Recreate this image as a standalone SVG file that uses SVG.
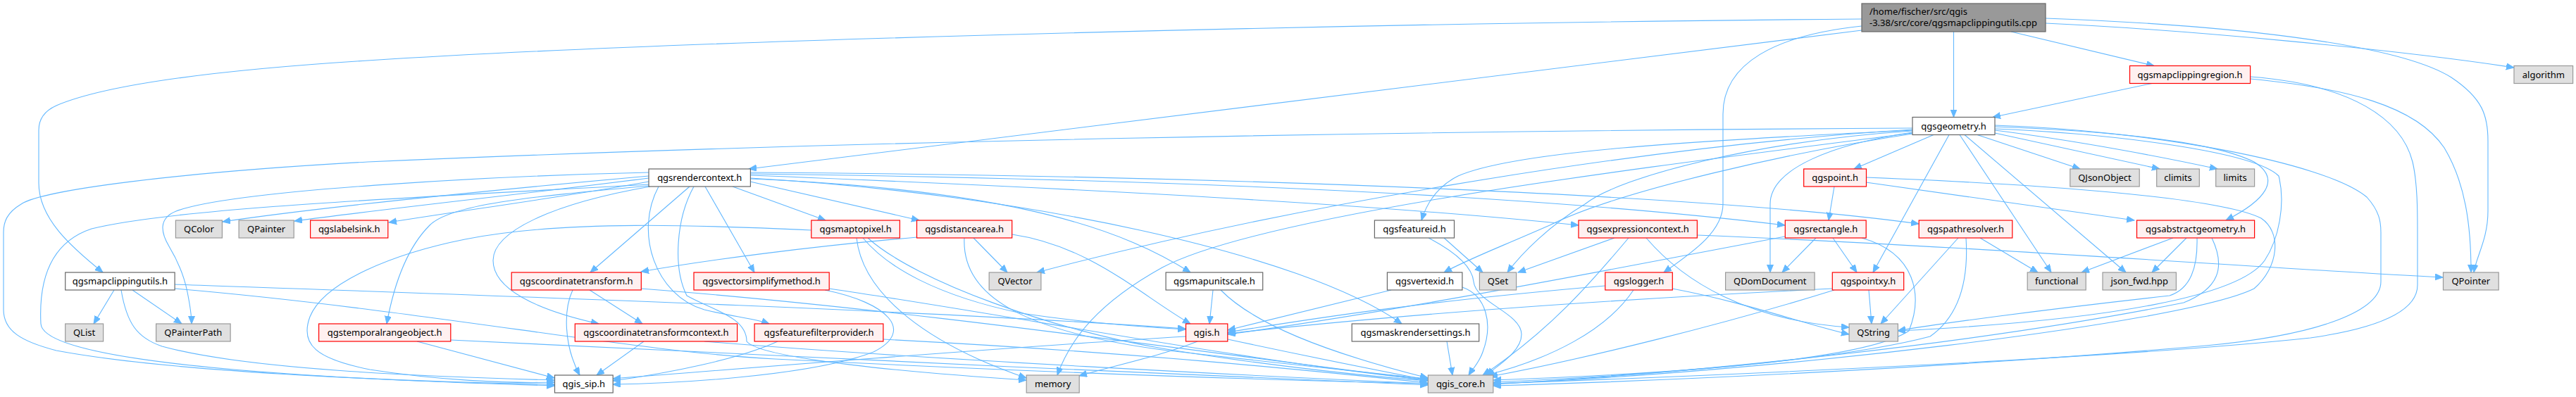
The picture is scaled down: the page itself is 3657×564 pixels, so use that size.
<svg xmlns="http://www.w3.org/2000/svg" width="3657" height="564" viewBox="0 0 3657 564">
<style>
.e{fill:none;stroke:#63b8ff;stroke-width:1.1;marker-end:url(#a)}
.nw rect{fill:#ffffff;stroke:#666666;stroke-width:1.2}
.nr rect{fill:#fff0f0;stroke:#ff0000;stroke-width:1.2}
.ng rect{fill:#e0e0e0;stroke:#999999;stroke-width:1.2}
.nt rect{fill:#999999;stroke:#666666;stroke-width:1.2}
text{font-family:"Noto Sans","DejaVu Sans",sans-serif;font-size:13px;fill:#000000;text-anchor:middle}
.nt text{text-anchor:start}
</style>
<defs>
<marker id="a" markerWidth="12" markerHeight="10" refX="11" refY="4.5" orient="auto" markerUnits="userSpaceOnUse"><path d="M0,0 L11,4.5 L0,9 z" fill="#63b8ff" stroke="#63b8ff" stroke-width="1"/></marker>
</defs>
<rect width="3657" height="564" fill="#ffffff"/>
<g id="edges">
<path class="e" d="M2643,27 C2000,32 1000,55 522,86 C300,100 150,120 80,150 C62,158 55,170 55,185 L55,260 C55,310 100,350 146,387"/>
<path class="e" d="M2643,43 L1063,240"/>
<path class="e" d="M2855,45 L3058,93.5"/>
<path class="e" d="M2773.5,45 L2773.5,166.5"/>
<path class="e" d="M2643,37 C2520,50 2446,90 2446,162 L2446,290 C2446,330 2400,360 2362,387"/>
<path class="e" d="M2904,33 C3100,42 3400,70 3569,96"/>
<path class="e" d="M2904,26 C3150,35 3400,60 3480,110 C3525,140 3532,165 3532,200 L3532,300 C3532,340 3515,365 3512,387"/>
<path class="e" d="M3055,118.5 L2829,166.5"/>
<path class="e" d="M3194.6,112 C3330,125 3430,150 3470,210 C3500,260 3508,320 3508,387"/>
<path class="e" d="M3194.6,109 C3340,120 3410,170 3425,230 C3432,260 3432,300 3432,330 L3432,405 C3432,450 3350,470 3280,480 C3000,510 2400,535 2120,545"/>
<path class="e" d="M2745,191.5 L2632,240"/>
<path class="e" d="M2767,191.5 L2659,387"/>
<path class="e" d="M2782,191.5 L2912,387"/>
<path class="e" d="M2789,191.5 L3018,387"/>
<path class="e" d="M2807,191.5 L2953,240"/>
<path class="e" d="M2832,189 L3066,240"/>
<path class="e" d="M2832,185 C2950,200 3080,225 3148,240"/>
<path class="e" d="M2832,180 C2990,186 3140,200 3200,230 C3240,255 3215,285 3160,313"/>
<path class="e" d="M2832,183 C3000,190 3200,215 3235,250 C3245,290 3235,340 3215,370 C3180,420 3000,455 2694,470"/>
<path class="e" d="M2832,178 C3050,185 3300,230 3360,280 C3378,300 3380,315 3380,330 L3380,400 C3380,440 3300,475 3132,491 C2800,520 2400,540 2120,548"/>
<path class="e" d="M2715,188 C2600,205 2513,240 2513,290 L2513,387"/>
<path class="e" d="M2715,186 C2500,200 2300,250 2250,290 C2200,320 2160,360 2140,387"/>
<path class="e" d="M2715,185 C2400,200 2150,215 2070,250 C2040,265 2025,290 2018,313"/>
<path class="e" d="M2715,190 C2550,215 2300,270 2200,320 C2120,355 2080,370 2050,387"/>
<path class="e" d="M2715,184 C2300,210 1800,300 1472,387"/>
<path class="e" d="M2715,189 C2400,230 1800,300 1650,380 C1560,430 1520,480 1501,533"/>
<path class="e" d="M2715,182 C2000,186 1200,200 522,230 C250,245 60,270 30,290 C10,302 5,315 5,330 L5,440 C5,470 30,485 80,498 C250,530 600,543 787,546"/>
<path class="e" d="M921,250 C700,270 450,295 316,315"/>
<path class="e" d="M921,253 C750,275 560,295 418,314"/>
<path class="e" d="M921,258 C800,280 650,300 552,316"/>
<path class="e" d="M921,245 C700,250 330,270 250,300 C225,310 228,330 240,350 C255,375 262,395 266,415 C270,435 272,448 272,460"/>
<path class="e" d="M921,262 C600,280 250,295 130,325 C70,345 55,400 58,460 C62,520 500,540 787,548"/>
<path class="e" d="M921,264 C750,280 640,290 610,320 C580,350 560,400 549,460"/>
<path class="e" d="M979,265 L838,387"/>
<path class="e" d="M923,265 C780,290 700,330 700,370 C700,410 760,440 850,460"/>
<path class="e" d="M985,265 C960,310 955,380 975,420 C1010,440 1060,450 1060,485 C1080,510 1300,530 1457,540"/>
<path class="e" d="M935,265 C900,330 930,420 1000,440 C1040,450 1070,452 1092,460"/>
<path class="e" d="M1001,265 L1071,387"/>
<path class="e" d="M1040,265 L1172,313"/>
<path class="e" d="M1065,258 L1305,313"/>
<path class="e" d="M1065,254 C1450,270 1600,330 1690,387"/>
<path class="e" d="M1065,253 C1450,275 1850,360 1990,460"/>
<path class="e" d="M1065,249 C1600,270 2000,295 2241,320"/>
<path class="e" d="M1065,247 C1700,255 2200,280 2534,320"/>
<path class="e" d="M1065,245 C1800,250 2450,280 2724,318"/>
<path class="e" d="M162,412 L133,460"/>
<path class="e" d="M188,412 L258,460"/>
<path class="e" d="M172,412 C180,460 195,480 230,492 C350,525 600,535 787,540"/>
<path class="e" d="M248,404 C700,420 1300,440 1683,467"/>
<path class="e" d="M248,410 C600,440 900,500 1100,510 C1500,530 1800,540 2027,545"/>
<path class="e" d="M592,485 L787,537"/>
<path class="e" d="M640,483 C1000,500 1600,530 2027,547"/>
<path class="e" d="M837,412 L912,460"/>
<path class="e" d="M813,412 C800,440 800,490 823,533"/>
<path class="e" d="M910,410 C1300,440 1700,500 2027,540"/>
<path class="e" d="M914,485 L847,533"/>
<path class="e" d="M1000,485 C1300,510 1800,535 2027,545"/>
<path class="e" d="M1171,412 C1260,430 1300,470 1240,500 C1150,535 950,545 870,546"/>
<path class="e" d="M1177,410 C1450,450 1750,510 2027,540"/>
<path class="e" d="M1216,338 C1225,420 1320,490 1457,537"/>
<path class="e" d="M1225,338 C1260,380 1330,420 1450,445 C1550,460 1630,465 1683,468"/>
<path class="e" d="M1232,338 C1300,400 1500,470 1650,495 C1800,520 1950,535 2027,541"/>
<path class="e" d="M1152,327 C1000,320 800,312 660,340 C560,360 460,400 440,450 C425,490 450,510 525,525 C620,540 720,545 787,543"/>
<path class="e" d="M1382,338 L1430,387"/>
<path class="e" d="M1302,337 C1150,350 1000,370 910,386"/>
<path class="e" d="M1369,338 C1365,420 1450,470 1650,497 C1850,520 1950,530 2027,538"/>
<path class="e" d="M1437,333 C1550,350 1620,420 1690,460"/>
<path class="e" d="M1104,485 C1050,510 950,530 870,541"/>
<path class="e" d="M1254,482 C1600,500 1850,525 2027,544"/>
<path class="e" d="M1683,478 C1400,495 1100,520 870,538"/>
<path class="e" d="M1743,482 C1850,505 1950,525 2027,540"/>
<path class="e" d="M1700,485 C1650,505 1580,520 1532,534"/>
<path class="e" d="M1722,412 L1717,460"/>
<path class="e" d="M1733,412 C1780,460 1880,500 2027,537"/>
<path class="e" d="M1975,412 L1743,469"/>
<path class="e" d="M2076,408 C2110,420 2120,460 2105,500 C2100,515 2090,525 2085,533"/>
<path class="e" d="M2319,412 C2280,470 2200,510 2110,533"/>
<path class="e" d="M2279,406 C2000,430 1850,455 1743,472"/>
<path class="e" d="M2374,410 C2480,430 2560,460 2625,475"/>
<path class="e" d="M2292,338 L2155,387"/>
<path class="e" d="M2312,338 C2260,400 2200,470 2105,533"/>
<path class="e" d="M2337,338 C2390,400 2480,455 2625,465"/>
<path class="e" d="M2409,334 C2800,350 3200,380 3468,394"/>
<path class="e" d="M2578,338 L2530,387"/>
<path class="e" d="M2602,338 L2636,387"/>
<path class="e" d="M2643,338 C2720,360 2730,420 2710,470 C2650,510 2400,530 2120,540"/>
<path class="e" d="M2534,336 C2300,380 2000,440 1743,475"/>
<path class="e" d="M2811,338 L2893,387"/>
<path class="e" d="M2780,338 L2670,460"/>
<path class="e" d="M2791,338 C2795,400 2780,450 2740,478 C2600,515 2300,535 2120,543"/>
<path class="e" d="M3085,338 L2955,387"/>
<path class="e" d="M3104,338 L3055,387"/>
<path class="e" d="M3119,338 C3120,380 3110,410 3080,420 C2900,440 2750,460 2694,470"/>
<path class="e" d="M3140,338 C3160,380 3150,410 3100,430 C2800,490 2400,530 2120,546"/>
<path class="e" d="M2604,265 L2596,313"/>
<path class="e" d="M2649,259 L3030,313"/>
<path class="e" d="M2649,252 C2900,262 3150,280 3210,310 C3240,330 3235,380 3200,410 C3100,460 2500,530 2120,545"/>
<path class="e" d="M2653,412 L2657,460"/>
<path class="e" d="M2604,412 C2450,460 2250,510 2115,535"/>
<path class="e" d="M2601,410 C2300,425 2000,445 1743,474"/>
<path class="e" d="M2050,338 L2105,387"/>
<path class="e" d="M2028,338 C2070,360 2090,380 2092,400 C2095,430 2160,445 2160,475 C2160,500 2125,520 2110,533"/>
<path class="e" d="M2054,485 L2062,533"/>
</g>
<g id="n0" class="nt"><rect x="2643" y="5" width="261" height="40"/><text x="2654" y="21">/home/fischer/src/qgis</text><text x="2654" y="37">-3.38/src/core/qgsmapclippingutils.cpp</text></g>
<g id="n1" class="nw"><rect x="92.7" y="387" width="155.4" height="25"/><text x="170.4" y="404">qgsmapclippingutils.h</text></g>
<g id="n2" class="nw"><rect x="921" y="240" width="144.4" height="25"/><text x="993.2" y="257">qgsrendercontext.h</text></g>
<g id="n3" class="nr"><rect x="3023.5" y="93.5" width="171.1" height="25"/><text x="3109" y="110.5">qgsmapclippingregion.h</text></g>
<g id="n4" class="nw"><rect x="2715" y="166.5" width="117" height="25"/><text x="2773.5" y="183.5">qgsgeometry.h</text></g>
<g id="n5" class="nr"><rect x="2278.8" y="387" width="95.5" height="25"/><text x="2326.5" y="404">qgslogger.h</text></g>
<g id="n6" class="ng"><rect x="3569" y="93.5" width="83.6" height="25"/><text x="3610.8" y="110.5">algorithm</text></g>
<g id="n7" class="ng"><rect x="3468.5" y="387" width="78.7" height="25"/><text x="3507.8" y="404">QPointer</text></g>
<g id="n8" class="ng"><rect x="92.7" y="460" width="53.9" height="25"/><text x="119.6" y="477">QList</text></g>
<g id="n9" class="ng"><rect x="221.6" y="460" width="105.5" height="25"/><text x="274.3" y="477">QPainterPath</text></g>
<g id="n10" class="nw"><rect x="787.5" y="533" width="82.7" height="25"/><text x="828.8" y="550">qgis_sip.h</text></g>
<g id="n11" class="ng"><rect x="2027.4" y="533" width="92.4" height="25"/><text x="2073.6" y="550">qgis_core.h</text></g>
<g id="n12" class="nr"><rect x="1683.5" y="460" width="59.3" height="25"/><text x="1713.1" y="477">qgis.h</text></g>
<g id="n13" class="ng"><rect x="249.4" y="313" width="66" height="25"/><text x="282.4" y="330">QColor</text></g>
<g id="n14" class="ng"><rect x="339.1" y="313" width="78.1" height="25"/><text x="378.1" y="330">QPainter</text></g>
<g id="n15" class="nr"><rect x="440.6" y="313" width="110.2" height="25"/><text x="495.7" y="330">qgslabelsink.h</text></g>
<g id="n16" class="nr"><rect x="452.6" y="460" width="187.2" height="25"/><text x="546.2" y="477">qgstemporalrangeobject.h</text></g>
<g id="n17" class="nr"><rect x="726.2" y="387" width="184.1" height="25"/><text x="818.2" y="404">qgscoordinatetransform.h</text></g>
<g id="n18" class="nr"><rect x="816.3" y="460" width="230.3" height="25"/><text x="931.4" y="477">qgscoordinatetransformcontext.h</text></g>
<g id="n19" class="nr"><rect x="985" y="387" width="192.2" height="25"/><text x="1081.1" y="404">qgsvectorsimplifymethod.h</text></g>
<g id="n20" class="nr"><rect x="1151.8" y="313" width="125.6" height="25"/><text x="1214.6" y="330">qgsmaptopixel.h</text></g>
<g id="n21" class="nr"><rect x="1301.5" y="313" width="135.2" height="25"/><text x="1369.1" y="330">qgsdistancearea.h</text></g>
<g id="n22" class="ng"><rect x="1404.2" y="387" width="73.7" height="25"/><text x="1441" y="404">QVector</text></g>
<g id="n23" class="nr"><rect x="1071.1" y="460" width="182.8" height="25"/><text x="1162.5" y="477">qgsfeaturefilterprovider.h</text></g>
<g id="n24" class="ng"><rect x="1457.2" y="533" width="75" height="25"/><text x="1494.7" y="550">memory</text></g>
<g id="n25" class="nw"><rect x="1655.1" y="387" width="137.6" height="25"/><text x="1723.9" y="404">qgsmapunitscale.h</text></g>
<g id="n26" class="nw"><rect x="1951.4" y="313" width="113.1" height="25"/><text x="2008" y="330">qgsfeatureid.h</text></g>
<g id="n27" class="nw"><rect x="1969.4" y="387" width="106.5" height="25"/><text x="2022.6" y="404">qgsvertexid.h</text></g>
<g id="n28" class="nw"><rect x="1919.2" y="460" width="180.5" height="25"/><text x="2009.5" y="477">qgsmaskrendersettings.h</text></g>
<g id="n29" class="nr"><rect x="2241" y="313" width="168.4" height="25"/><text x="2325.2" y="330">qgsexpressioncontext.h</text></g>
<g id="n30" class="nr"><rect x="2534.3" y="313" width="114.9" height="25"/><text x="2591.8" y="330">qgsrectangle.h</text></g>
<g id="n31" class="nr"><rect x="2560.7" y="240" width="88.8" height="25"/><text x="2605.1" y="257">qgspoint.h</text></g>
<g id="n32" class="ng"><rect x="2100.4" y="387" width="52.2" height="25"/><text x="2126.5" y="404">QSet</text></g>
<g id="n33" class="ng"><rect x="2449.6" y="387" width="126.5" height="25"/><text x="2512.8" y="404">QDomDocument</text></g>
<g id="n34" class="nr"><rect x="2601.3" y="387" width="101.4" height="25"/><text x="2652" y="404">qgspointxy.h</text></g>
<g id="n35" class="ng"><rect x="2625.1" y="460" width="69.3" height="25"/><text x="2659.7" y="477">QString</text></g>
<g id="n36" class="nr"><rect x="2724.2" y="313" width="132.6" height="25"/><text x="2790.5" y="330">qgspathresolver.h</text></g>
<g id="n37" class="nr"><rect x="3033.5" y="313" width="167.1" height="25"/><text x="3117" y="330">qgsabstractgeometry.h</text></g>
<g id="n38" class="ng"><rect x="2878.2" y="387" width="83" height="25"/><text x="2919.7" y="404">functional</text></g>
<g id="n39" class="ng"><rect x="2985" y="387" width="104.4" height="25"/><text x="3037.2" y="404">json_fwd.hpp</text></g>
<g id="n40" class="ng"><rect x="2938.8" y="240" width="98.4" height="25"/><text x="2988" y="257">QJsonObject</text></g>
<g id="n41" class="ng"><rect x="3061.7" y="240" width="60.6" height="25"/><text x="3092" y="257">climits</text></g>
<g id="n42" class="ng"><rect x="3145.7" y="240" width="54.9" height="25"/><text x="3173.1" y="257">limits</text></g>
</svg>
